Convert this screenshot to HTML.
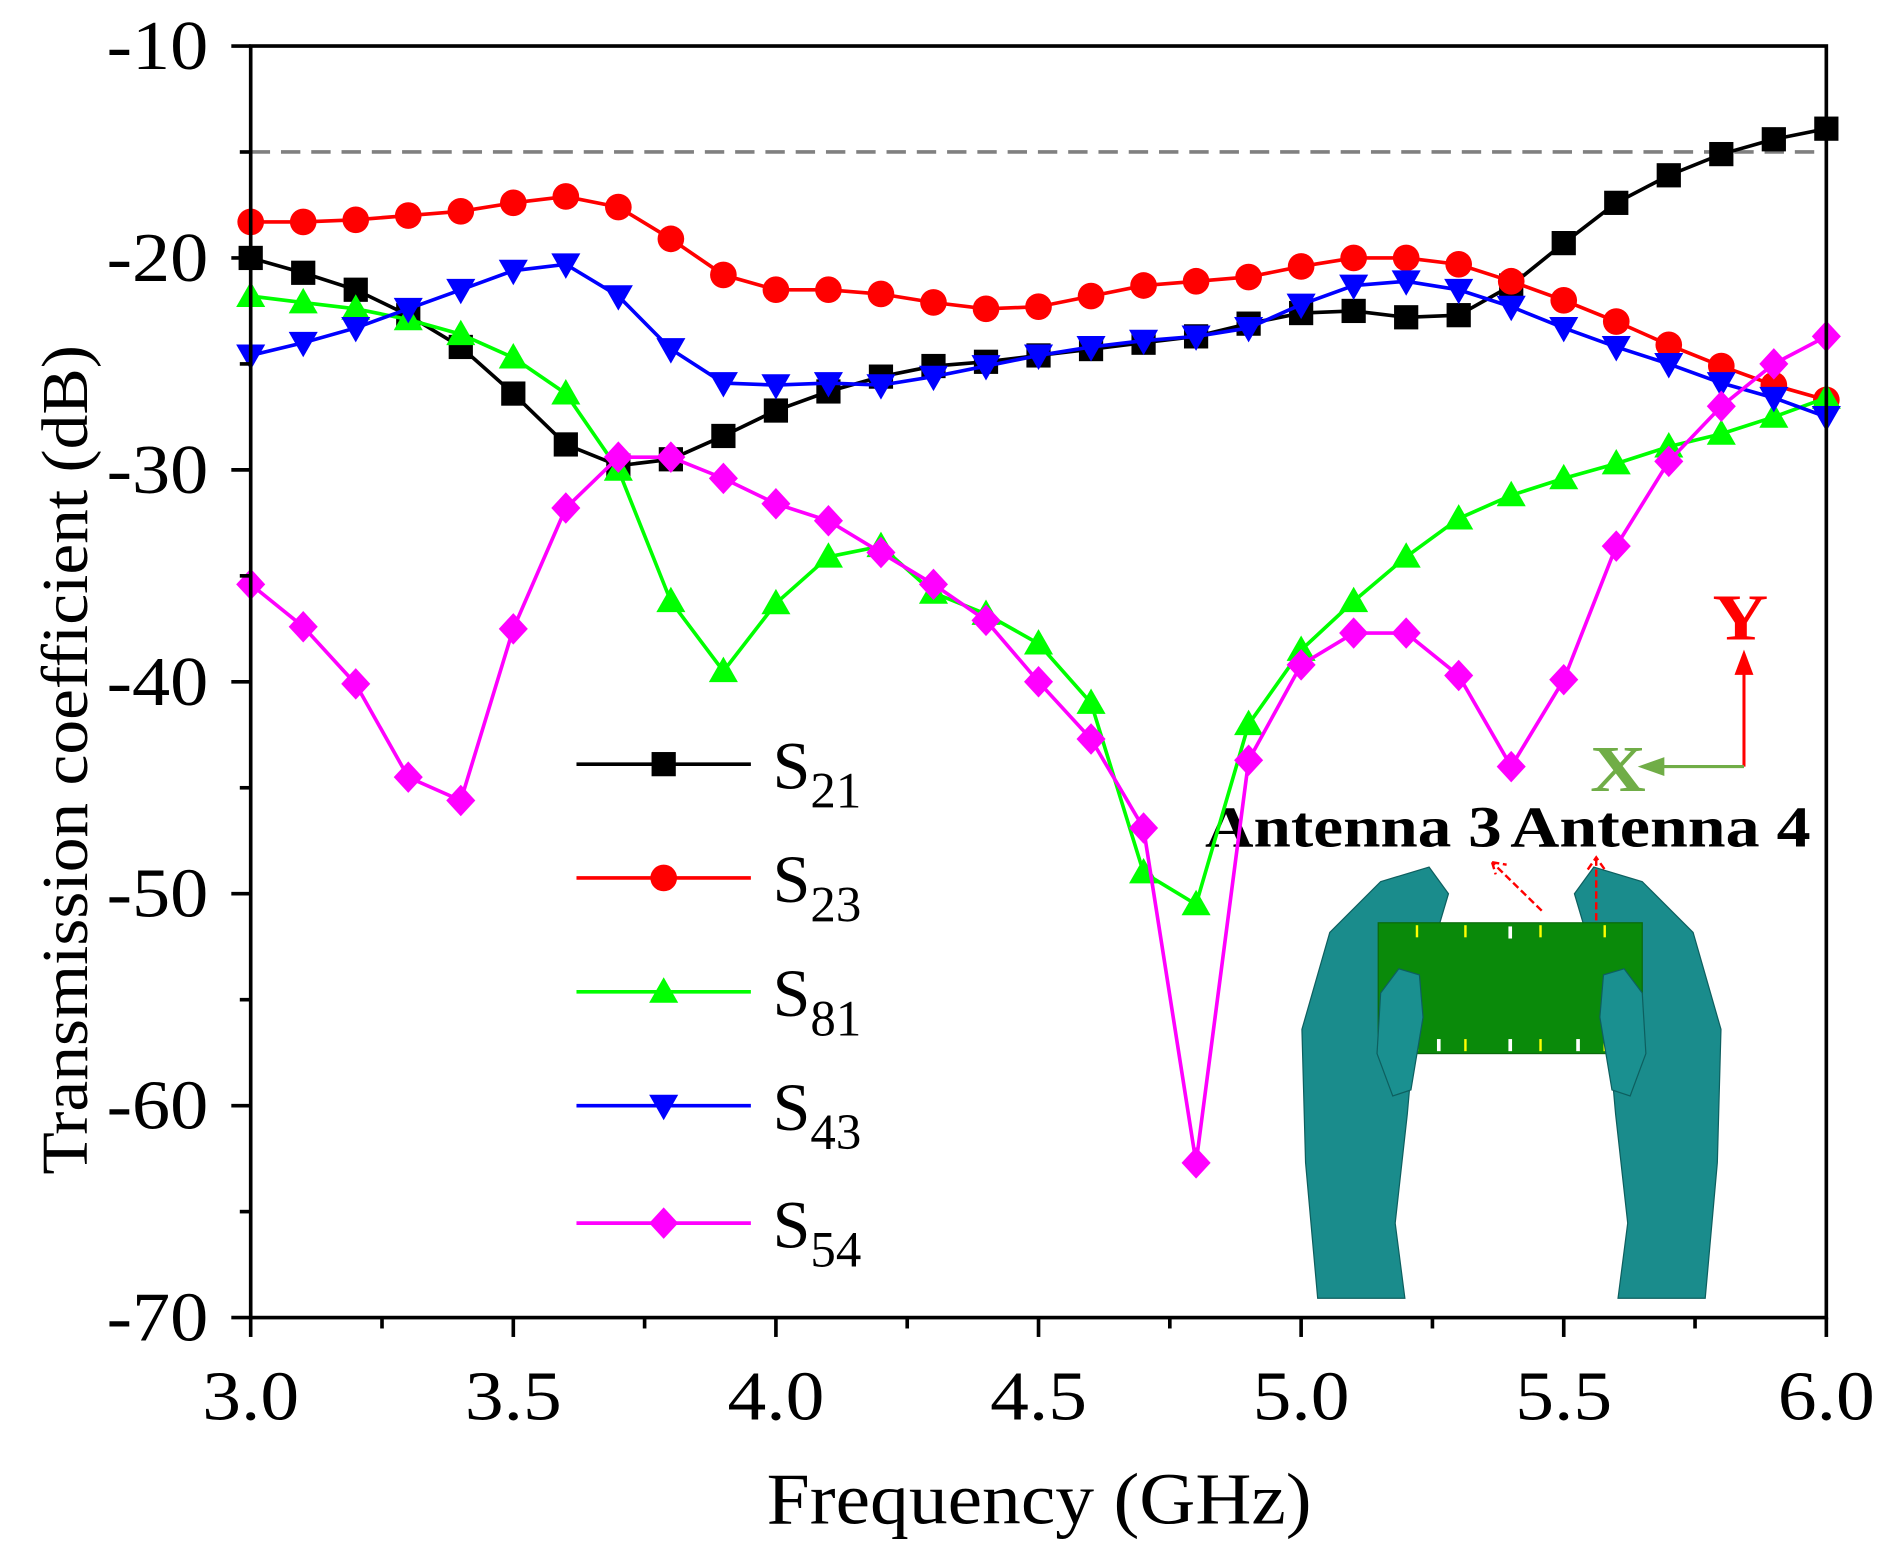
<!DOCTYPE html>
<html><head><meta charset="utf-8"><style>
html,body{margin:0;padding:0;background:#fff}
svg{display:block}
text{font-family:"Liberation Serif",serif}
</style></head><body>
<svg id="s" width="1899" height="1561" viewBox="0 0 1568 1289" preserveAspectRatio="none" xmlns="http://www.w3.org/2000/svg">
<rect width="1568" height="1289" fill="#fff"/>
<g id="hands">
<polygon points="1088,1072 1078,960 1075,850 1098,770 1140,728 1180,716 1196,738 1188,765 1172,800 1170,830 1162,920 1152,1010 1160,1072" fill="#1a8c8c" stroke="#0d5f5f" stroke-width="1"/>
<polygon points="1408,1072 1418,960 1421,850 1398,770 1356,728 1316,716 1300,738 1308,765 1324,800 1326,830 1334,920 1344,1010 1336,1072" fill="#1a8c8c" stroke="#0d5f5f" stroke-width="1"/>
<rect x="1138" y="762" width="218" height="108" fill="#0a8a0a" stroke="#0a6a0a"/>
<g stroke="#ff0" stroke-width="2"><line x1="1170" y1="764" x2="1170" y2="774"/><line x1="1210" y1="764" x2="1210" y2="774"/><line x1="1272" y1="764" x2="1272" y2="774"/><line x1="1325" y1="764" x2="1325" y2="774"/><line x1="1170" y1="858" x2="1170" y2="868"/><line x1="1210" y1="858" x2="1210" y2="868"/><line x1="1272" y1="858" x2="1272" y2="868"/><line x1="1325" y1="858" x2="1325" y2="868"/></g>
<g stroke="#fff" stroke-width="3"><line x1="1247" y1="765" x2="1247" y2="775"/><line x1="1247" y1="858" x2="1247" y2="868"/><line x1="1303" y1="858" x2="1303" y2="868"/><line x1="1188" y1="858" x2="1188" y2="868"/></g>
<polygon points="1137,870 1140,820 1155,800 1172,805 1175,840 1165,900 1150,905" fill="#1a9090" stroke="#0d5f5f"/>
<polygon points="1359,870 1356,820 1341,800 1324,805 1321,840 1331,900 1346,905" fill="#1a9090" stroke="#0d5f5f"/>
<path d="M1273,752 L1232,712 M1232,712 l12,2 M1232,712 l3,10" stroke="#f00" stroke-width="2" stroke-dasharray="6,3" fill="none"/>
<path d="M1318,760 L1318,708 M1311,718 L1318,708 L1325,718" stroke="#f00" stroke-width="2" stroke-dasharray="6,3" fill="none"/>
<path d="M1440,633 V548 M1434,556 L1440,540 L1446,556 Z" stroke="#f00" stroke-width="2.5" fill="#f00"/>
<path d="M1440,633 H1365 M1373,627 L1356,633 L1373,639 Z" stroke="#70ad47" stroke-width="2.5" fill="#70ad47"/>
<text x="1414" y="528" font-size="54" font-weight="bold" fill="#f00" textLength="46" lengthAdjust="spacingAndGlyphs">Y</text>
<text x="1313" y="653" font-size="54" font-weight="bold" fill="#70ad47" textLength="46" lengthAdjust="spacingAndGlyphs">X</text>
<text x="995" y="699" font-size="48" font-weight="bold" textLength="245" lengthAdjust="spacingAndGlyphs">Antenna 3</text>
<text x="1247" y="699" font-size="48" font-weight="bold" textLength="248" lengthAdjust="spacingAndGlyphs">Antenna 4</text>
</g>
<g id="plot"></g>
</svg>
<script>
var X=function(f){return 207+(f-3)*433.67},Y=function(v){return 38+(-10-v)*17.5};
var g=document.getElementById('plot'),h='';
h+='<line x1="207" y1="'+Y(-15)+'" x2="1508" y2="'+Y(-15)+'" stroke="#808080" stroke-width="3" stroke-dasharray="16,9"/>';
var D={
'#000':[-20,-20.7,-21.5,-22.7,-24.2,-26.4,-28.8,-29.8,-29.5,-28.4,-27.2,-26.3,-25.6,-25.1,-24.9,-24.6,-24.3,-24.0,-23.7,-23.1,-22.6,-22.5,-22.8,-22.7,-21.3,-19.3,-17.4,-16.1,-15.1,-14.4,-13.9],
'#f00':[-18.3,-18.3,-18.2,-18.0,-17.8,-17.4,-17.1,-17.6,-19.1,-20.8,-21.5,-21.5,-21.7,-22.1,-22.4,-22.3,-21.8,-21.3,-21.1,-20.9,-20.4,-20.0,-20.0,-20.3,-21.1,-22.0,-23.0,-24.1,-25.1,-26.0,-26.7],
'#0f0':[-21.8,-22.1,-22.4,-22.9,-23.6,-24.7,-26.4,-30,-36.2,-39.5,-36.3,-34.1,-33.6,-35.8,-36.8,-38.2,-41,-49,-50.5,-42,-38.5,-36.2,-34.1,-32.3,-31.2,-30.4,-29.7,-28.9,-28.3,-27.5,-26.6],
'#00f':[-24.6,-24,-23.3,-22.4,-21.5,-20.6,-20.3,-21.8,-24.3,-25.9,-26,-25.9,-26,-25.6,-25.1,-24.6,-24.2,-23.9,-23.7,-23.3,-22.2,-21.3,-21.1,-21.5,-22.3,-23.3,-24.2,-25,-25.9,-26.6,-27.5],
'#f0f':[-35.4,-37.4,-40.1,-44.5,-45.6,-37.5,-31.8,-29.4,-29.4,-30.4,-31.6,-32.4,-33.9,-35.4,-37.1,-40,-42.7,-46.9,-62.7,-43.7,-39.2,-37.7,-37.7,-39.7,-44,-39.9,-33.6,-29.6,-27,-25,-23.7]};
function mk(c,x,y,i){
 if(i==0)return '<rect x="'+(x-10)+'" y="'+(y-10)+'" width="20" height="20" fill="'+c+'"/>';
 if(i==1)return '<circle cx="'+x+'" cy="'+y+'" r="11" fill="'+c+'"/>';
 if(i==2)return '<polygon points="'+x+','+(y-12)+' '+(x-12)+','+(y+9)+' '+(x+12)+','+(y+9)+'" fill="'+c+'"/>';
 if(i==3)return '<polygon points="'+x+','+(y+12)+' '+(x-12)+','+(y-9)+' '+(x+12)+','+(y-9)+'" fill="'+c+'"/>';
 return '<polygon points="'+x+','+(y-13)+' '+(x+12)+','+y+' '+x+','+(y+13)+' '+(x-12)+','+y+'" fill="'+c+'"/>';}
var i=0,ly=[631,725,819,913,1010],ln=['21','23','81','43','54'];
for(var c in D){var p=D[c].map(function(v,k){return X(3+k*0.1).toFixed(1)+','+Y(v).toFixed(1)}).join(' ');
 h+='<polyline points="'+p+'" fill="none" stroke="'+c+'" stroke-width="3"/>';
 D[c].forEach(function(v,k){h+=mk(c,X(3+k*0.1),Y(v),i)});
 h+='<line x1="476" y1="'+ly[i]+'" x2="620" y2="'+ly[i]+'" stroke="'+c+'" stroke-width="3"/>'+mk(c,548,ly[i],i);
 h+='<text x="638" y="'+(ly[i]+20)+'" font-size="56">S<tspan font-size="42" dy="16">'+ln[i]+'</tspan></text>';
 i++;}
h+='<rect x="207" y="38" width="1301" height="1050" fill="none" stroke="#000" stroke-width="3"/>';
for(var f=3;f<=6.001;f+=0.25){var maj=Math.abs(f*2-Math.round(f*2))<0.01;h+='<line x1="'+X(f)+'" y1="1088" x2="'+X(f)+'" y2="'+(1088+(maj?16:9))+'" stroke="#000" stroke-width="3"/>';
 if(maj)h+='<text x="'+(X(f)-40)+'" y="1172" font-size="58" textLength="80" lengthAdjust="spacingAndGlyphs">'+f.toFixed(1)+'</text>';}
for(var v=-10;v>=-70;v-=5){var maj=v%10==0;h+='<line x1="207" y1="'+Y(v)+'" x2="'+(207-(maj?16:9))+'" y2="'+Y(v)+'" stroke="#000" stroke-width="3"/>';
 if(maj)h+='<text x="88" y="'+(Y(v)+19)+'" font-size="58" textLength="84" lengthAdjust="spacingAndGlyphs">'+v+'</text>';}
h+='<text x="633" y="1258" font-size="60" textLength="450" lengthAdjust="spacingAndGlyphs">Frequency (GHz)</text>';
h+='<text transform="translate(72,970) rotate(-90)" font-size="54" textLength="685" lengthAdjust="spacingAndGlyphs">Transmission coefficient (dB)</text>';
g.innerHTML=h;
</script>
</body></html>
